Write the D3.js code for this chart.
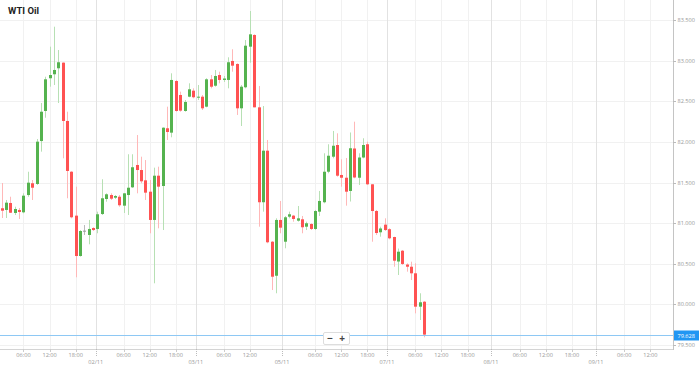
<!DOCTYPE html>
<html><head><meta charset="utf-8">
<script src="https://cdn.jsdelivr.net/npm/d3@7"></script>
<style>body{margin:0;background:#fff;}svg{display:block;font-family:"Open Sans",Roboto,Arial,sans-serif;}</style>
</head><body>
<svg id="c" width="699" height="367"></svg>
<script>
const title = "WTI Oil";
const opens = [81.184,81.163,81.249,81.126,81.163,81.134,81.347,81.492,81.483,82.012,82.382,82.785,82.834,82.908,82.977,82.259,81.634,81.093,80.596,80.908,80.855,80.941,80.929,81.113,81.298,81.347,81.314,81.326,81.216,81.347,81.442,81.717,81.655,81.528,81.388,81.040,81.585,81.458,82.169,82.115,82.751,82.579,82.382,82.558,82.632,82.551,82.558,82.435,82.772,82.693,82.825,82.764,82.764,82.998,82.961,82.415,82.674,83.174,83.318,82.427,81.258,81.893,80.772,80.353,81.040,80.772,81.080,81.093,81.031,81.048,80.957,80.990,80.929,81.142,81.258,81.634,81.819,81.963,81.594,81.560,81.397,81.920,81.560,81.809,81.972,81.479,81.150,80.888,80.982,80.926,80.830,80.528,80.661,80.491,80.464,80.383,79.972,80.033];
const highs = [81.495,81.286,81.326,81.203,81.187,81.368,81.634,81.532,82.037,82.480,82.804,83.174,83.420,83.133,82.980,82.373,81.640,81.450,80.916,80.978,81.040,80.950,81.142,81.541,81.368,81.368,81.347,81.347,81.370,81.849,81.849,82.086,81.819,81.778,81.532,81.684,81.696,82.180,82.435,82.846,82.764,82.620,82.517,82.723,82.661,82.702,82.579,82.785,82.825,82.887,82.866,82.813,83.043,83.142,82.969,82.702,83.256,83.613,83.326,82.690,82.443,82.025,80.780,81.060,81.274,81.089,81.142,81.101,81.212,81.089,81.019,80.999,81.163,81.397,81.861,81.972,82.136,82.107,81.787,81.803,82.117,82.250,81.861,82.046,82.004,81.480,81.163,80.957,81.060,80.937,80.834,80.688,80.670,80.506,80.526,80.506,80.137,80.040];
const lows = [81.064,81.064,81.126,81.101,81.052,81.122,81.326,81.286,81.471,81.881,82.299,82.681,82.702,82.480,81.799,81.307,81.060,80.334,80.588,80.855,80.740,80.904,80.876,81.101,81.265,81.286,81.298,81.203,81.126,81.101,81.434,81.368,81.492,81.286,80.876,80.260,80.937,80.916,82.025,82.058,82.373,82.373,82.373,82.551,82.538,82.517,82.394,82.427,82.661,82.681,82.723,82.739,82.661,82.866,82.333,82.197,82.661,82.977,82.427,80.957,81.142,80.753,80.177,80.137,80.876,80.691,81.060,81.019,81.019,80.876,80.916,80.916,80.916,81.089,81.245,81.615,81.799,81.573,81.450,81.216,81.267,81.553,81.471,81.799,81.471,80.772,80.855,80.834,80.904,80.802,80.464,80.362,80.485,80.403,80.300,79.890,79.808,79.595];
const closes = [81.154,81.253,81.129,81.175,81.138,81.339,81.499,81.437,82.004,82.373,82.772,82.825,82.887,82.982,82.259,81.643,81.073,80.596,80.904,80.908,80.929,80.916,81.110,81.307,81.356,81.302,81.335,81.221,81.368,81.437,81.689,81.655,81.516,81.376,81.040,81.585,81.450,82.176,82.123,82.764,82.382,82.386,82.493,82.649,82.551,82.558,82.415,82.772,82.681,82.813,82.764,82.782,82.982,82.940,82.415,82.681,83.186,83.326,82.427,81.258,81.893,80.765,80.341,81.040,80.945,81.073,81.110,81.052,81.060,80.950,80.999,80.929,81.150,81.274,81.634,81.831,81.954,81.585,81.560,81.388,81.923,81.563,81.809,81.963,81.479,81.150,80.879,80.935,80.916,80.814,80.538,80.649,80.498,80.464,80.383,79.972,80.026,79.628];
const priceTicks = [79.5,80.0,80.5,81.0,81.5,82.0,82.5,83.0,83.5];
const hourTickPos = [5,11,17,28,34,40,51,57,72,78,84,95,101,107,119,125,131,143,149];
const hourTickLabels = ["06:00","12:00","18:00","06:00","12:00","18:00","06:00","12:00","06:00","12:00","18:00","06:00","12:00","18:00","06:00","12:00","18:00","06:00","12:00"];
const dayTickPos = [21.6,44.6,64.4,88.5,112.4,136.5];
const dayTickLabels = ["02/11","03/11","05/11","07/11","08/11","09/11"];
const lastPrice = 79.628;

const W = 699, H = 367, plotR = 673, plotB = 349;
const svg = d3.select("#c");
const x = d3.scaleLinear().domain([-0.39, 154.2]).range([0, plotR]);
const y = d3.scaleLinear().domain([79.5, 83.5]).range([345, 20.2]);

// grid
const g = svg.append("g");
g.selectAll(".hg").data(priceTicks).join("line")
  .attr("x1",0).attr("x2",plotR).attr("y1",d=>Math.round(y(d))+0.5).attr("y2",d=>Math.round(y(d))+0.5)
  .attr("stroke","#f1f1f1");
g.selectAll(".vg").data(hourTickPos).join("line")
  .attr("x1",d=>Math.round(x(d))+0.5).attr("x2",d=>Math.round(x(d))+0.5).attr("y1",0).attr("y2",plotB)
  .attr("stroke","#f1f1f1");
g.selectAll(".dg").data(dayTickPos).join("line")
  .attr("x1",d=>Math.round(x(d))+0.5).attr("x2",d=>Math.round(x(d))+0.5).attr("y1",0).attr("y2",plotB)
  .attr("stroke","#e2e2e2");

// candles
const idx = d3.range(opens.length);
const green = "#55b34f", red = "#ff5252";
const col = i => closes[i] > opens[i] ? green : (closes[i] < opens[i] ? red : "#999");
const wcol = i => closes[i] > opens[i] ? "#b7e0b4" : (closes[i] < opens[i] ? "#ffb8b8" : "#bbb");
const cg = svg.append("g");
cg.selectAll(".w").data(idx).join("line")
  .attr("x1",i=>Math.round(x(i))+0.5).attr("x2",i=>Math.round(x(i))+0.5)
  .attr("y1",i=>y(highs[i])).attr("y2",i=>y(lows[i]))
  .attr("stroke",wcol).attr("stroke-width",1);
cg.selectAll(".b").data(idx).join("rect")
  .attr("x",i=>Math.round(x(i))-1)
  .attr("width",3)
  .attr("y",i=>y(Math.max(opens[i],closes[i])))
  .attr("height",i=>Math.max(1, Math.abs(y(opens[i])-y(closes[i]))))
  .attr("fill",col);

// axes lines
svg.append("line").attr("x1",plotR+0.5).attr("x2",plotR+0.5).attr("y1",0).attr("y2",plotB+1).attr("stroke","#c4c4c4");
svg.append("line").attr("x1",0).attr("x2",plotR).attr("y1",plotB+0.5).attr("y2",plotB+0.5).attr("stroke","#d4d4d4");

// y labels
const yl = svg.append("g");
yl.selectAll("line").data(priceTicks).join("line")
  .attr("x1",plotR).attr("x2",plotR+3).attr("y1",d=>Math.round(y(d))+0.5).attr("y2",d=>Math.round(y(d))+0.5).attr("stroke","#bbb");
yl.selectAll("text").data(priceTicks).join("text")
  .attr("x",plotR+4.5).attr("y",d=>y(d)+2).attr("font-size",5.6).attr("fill","#999")
  .text(d=>d3.format(".3f")(d));

// x labels
const xl = svg.append("g");
xl.selectAll(".ht").data(hourTickPos).join("line")
  .attr("x1",d=>Math.round(x(d))+0.5).attr("x2",d=>Math.round(x(d))+0.5).attr("y1",plotB).attr("y2",plotB+3).attr("stroke","#ccc");
xl.selectAll(".hl").data(hourTickPos).join("text")
  .attr("x",d=>x(d)).attr("y",357).attr("text-anchor","middle").attr("font-size",5.6).attr("fill","#999")
  .text((d,i)=>hourTickLabels[i]);
xl.selectAll(".dt").data(dayTickPos).join("line")
  .attr("x1",d=>Math.round(x(d))+0.5).attr("x2",d=>Math.round(x(d))+0.5).attr("y1",plotB).attr("y2",plotB+7)
  .attr("stroke","#bbb").attr("stroke-dasharray","1,1");
xl.selectAll(".dl").data(dayTickPos).join("text")
  .attr("x",d=>x(d)).attr("y",364).attr("text-anchor","middle").attr("font-size",5.6).attr("fill","#999")
  .text((d,i)=>dayTickLabels[i]);

// current price line
const py = Math.round(y(lastPrice))+0.5;
svg.append("line").attr("x1",0).attr("x2",plotR).attr("y1",py).attr("y2",py).attr("stroke","#8ec8f4").attr("stroke-width",1.2);
svg.append("rect").attr("x",plotR+1).attr("y",py-5).attr("width",W-plotR-1).attr("height",10).attr("fill","#2196f3");
svg.append("text").attr("x",plotR+4.5).attr("y",py+2).attr("font-size",5.6).attr("fill","#fff").text(d3.format(".3f")(lastPrice));

// zoom buttons
const zb = svg.append("g");
zb.append("rect").attr("x",323.5).attr("y",332.5).attr("width",26).attr("height",12).attr("rx",1.5).attr("fill","#fff").attr("stroke","#ddd");
zb.append("text").attr("x",330).attr("y",341.5).attr("text-anchor","middle").attr("font-size",10).attr("font-weight","bold").attr("fill","#444").text("−");
zb.append("text").attr("x",342).attr("y",341.5).attr("text-anchor","middle").attr("font-size",10).attr("font-weight","bold").attr("fill","#444").text("+");

// title
svg.append("text").attr("x",8).attr("y",14).attr("font-size",9.5).attr("font-weight","bold").attr("fill","#222")
  .style("font-family","Roboto, 'Open Sans', sans-serif").text(title);
</script>
</body></html>
